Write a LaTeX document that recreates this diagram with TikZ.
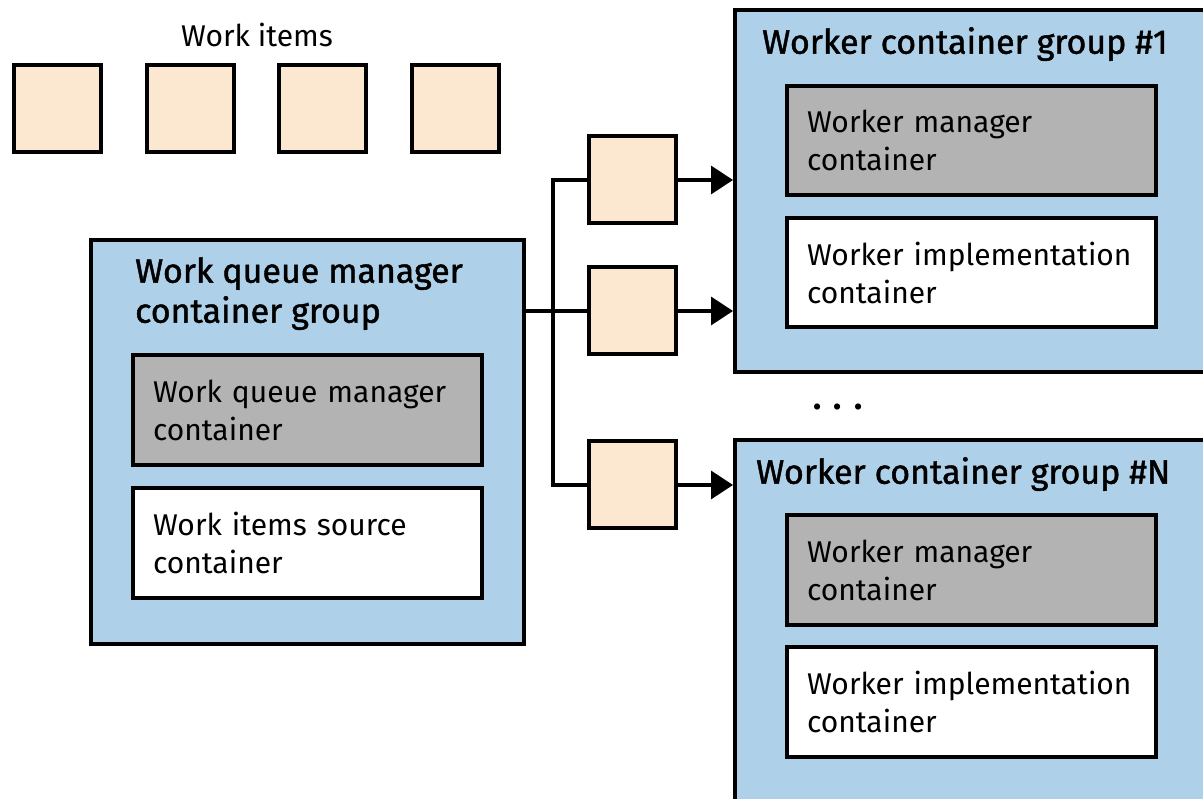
\documentclass[tikz,border=0pt]{standalone}
\usepackage{fontspec}
\setmainfont{Fira Sans}
\newfontfamily\titlefont[FakeBold=1.3]{Fira Sans}
\usetikzlibrary{arrows.meta}
\definecolor{itemfill}{RGB}{252,232,208}
\definecolor{groupfill}{RGB}{174,208,232}
\definecolor{mgrfill}{RGB}{179,179,179}
\tikzset{
  item/.style={draw, line width=4pt, fill=itemfill, minimum width=87pt, minimum height=87pt, inner sep=0pt},
  group/.style={draw, line width=4pt, fill=groupfill, inner sep=0pt},
  grouptitle/.style={anchor=north west, inner sep=0pt, align=left, font=\titlefont\fontsize{34}{40}\selectfont},
  inbox/.style={draw, line width=4pt, inner xsep=20pt, inner ysep=0pt, align=left,
    font=\fontsize{30}{38}\selectfont},
  mgrbox/.style={inbox, fill=mgrfill},
  implbox/.style={inbox, fill=white},
  link/.style={line width=3.5pt},
  arrow/.style={link, -{Triangle[length=22pt,width=28pt]}}
}
\begin{document}
\begin{tikzpicture}[x=1pt, y=-1pt]
    \useasboundingbox (0,0) rectangle (1203,799);

    % work items
    \node[font=\fontsize{30}{36}\selectfont] (witext) at (257,35) {Work items};
    \node[item] (w1) at (57,108.5) {};
    \node[item] (w2) at (190,108.5) {};
    \node[item] (w3) at (322,108.5) {};
    \node[item] (w4) at (455,108.5) {};

    % work queue manager group
    \node[group, minimum width=433pt, minimum height=404pt] (wq) at (307.5,442) {};
    \node[grouptitle] (wqtitle) at (135,257) {Work queue manager\\container group};
    \node[mgrbox, text width=309pt, minimum height=110pt] (wqmgr) at (307.5,410) {Work queue manager\\container};
    \node[implbox, text width=309pt, minimum height=110pt] (wqsrc) at (307.5,543) {Work items source\\container};

    % worker group #1
    \node[group, minimum width=480pt, minimum height=362pt] (g1) at (975,191) {};
    \node[grouptitle] (g1title) at (762,27) {Worker container group \#1};
    \node[mgrbox, text width=329pt, minimum height=109pt] (g1mgr) at (971.5,140.5) {Worker manager\\container};
    \node[implbox, text width=329pt, minimum height=109pt] (g1impl) at (971.5,272.5) {Worker implementation\\container};

    \node[font=\fontsize{34}{40}\selectfont\bfseries] (dots) at (838,407) {.\hspace{12pt}.\hspace{12pt}.};

    % worker group #N
    \node[group, minimum width=480pt, minimum height=375pt] (gn) at (975,627.5) {};
    \node[grouptitle] (gntitle) at (756,457) {Worker container group \#N};
    \node[mgrbox, text width=329pt, minimum height=110pt] (gnmgr) at (971.5,570) {Worker manager\\container};
    \node[implbox, text width=329pt, minimum height=110pt] (gnimpl) at (971.5,702) {Worker implementation\\container};

    % queued items
    \node[item] (q1) at (632,180) {};
    \node[item] (q2) at (632,311) {};
    \node[item] (q3) at (632,485) {};
    \coordinate (split) at (553,311);

    \draw[link] (wq.east |- q2.west) -- (q2.west);
    \draw[link] (q1.west) -| (split |- q3.west) -- (q3.west);
    \draw[arrow] (q1.east) -- (g1.west |- q1.east);
    \draw[arrow] (q2.east) -- (g1.west |- q2.east);
    \draw[arrow] (q3.east) -- (gn.west |- q3.east);
\end{tikzpicture}
\end{document}
